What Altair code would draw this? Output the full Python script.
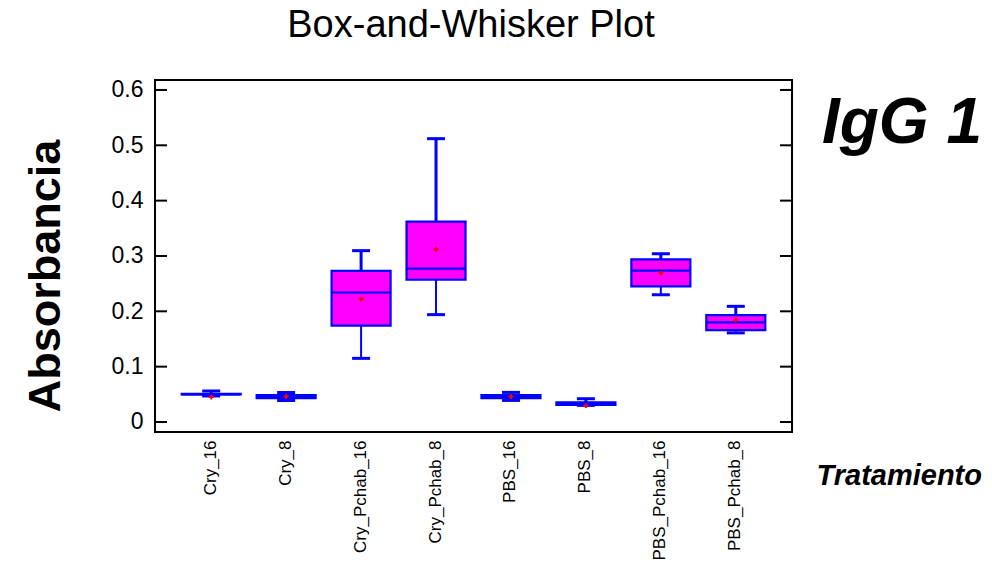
import altair as alt
import pandas as pd

# ---- data ----
groups = ["Cry_16", "Cry_8", "Cry_Pchab_16", "Cry_Pchab_8",
          "PBS_16", "PBS_8", "PBS_Pchab_16", "PBS_Pchab_8"]
mins    = [0.047, 0.039, 0.115, 0.194, 0.039, 0.030, 0.230, 0.161]
q1s     = [0.0498, 0.043, 0.174, 0.257, 0.043, 0.031, 0.245, 0.166]
medians = [0.050, 0.046, 0.234, 0.277, 0.046, 0.034, 0.2735, 0.180]
q3s     = [0.0508, 0.0488, 0.273, 0.362, 0.0488, 0.0356, 0.294, 0.193]
maxs    = [0.056, 0.0535, 0.3096, 0.512, 0.0535, 0.042, 0.304, 0.209]
means   = [0.045, 0.046, 0.222, 0.312, 0.046, 0.0295, 0.269, 0.184]

y_ticks = [0, 0.1, 0.2, 0.3, 0.4, 0.5, 0.6]

title_text = ["Box-and-Whisker Plot"]
corner_text = ["IgG 1"]
y_title = ["Absorbancia"]
x_title = ["Tratamiento"]

BLUE = "#0000FF"
MAGENTA = "#FF00FF"
W, H = 637, 352

df = pd.DataFrame(dict(group=groups, lo=mins, q1=q1s, med=medians,
                       q3=q3s, hi=maxs, mean=means))

yscale = alt.Scale(domain=[-0.0181, 0.618], nice=False, zero=False)

x_enc = alt.X("group:N", sort=groups,
              scale=alt.Scale(type="point", padding=0.75),
              axis=alt.Axis(title=None, labelAngle=270, labelFont="Liberation Sans",
                            labelFontSize=17, labelColor="black", labelPadding=8,
                            ticks=False, tickSize=0, domain=False, grid=False,
                            labelOffset=-1))


def Y(field, axis=False):
    if axis:
        return alt.Y(field, scale=yscale,
                     axis=alt.Axis(title=None, values=y_ticks, format="~g",
                                   labelFont="Liberation Sans", labelFontSize=23,
                                   labelColor="black", labelPadding=12,
                                   ticks=False, tickSize=0, domain=False, grid=False))
    return alt.Y(field, scale=yscale, title=None)


base = alt.Chart(df).encode(x=x_enc)

boxes = base.mark_bar(size=59, fill=MAGENTA, stroke=BLUE, strokeWidth=2.2,
                      opacity=1, fillOpacity=1, strokeOpacity=1).encode(
    y=Y("q1:Q", axis=True), y2="q3:Q")
upper = base.mark_rule(color=BLUE, strokeWidth=3, opacity=1).encode(y=Y("q3:Q"), y2="hi:Q")
lower = base.mark_rule(color=BLUE, strokeWidth=2, opacity=1).encode(y=Y("lo:Q"), y2="q1:Q")
cap_hi = base.mark_tick(color=BLUE, size=18, thickness=3, opacity=1).encode(y=Y("hi:Q"))
cap_lo = base.mark_tick(color=BLUE, size=18, thickness=3, opacity=1).encode(y=Y("lo:Q"))
median = base.mark_tick(color=BLUE, size=59, thickness=2.2, opacity=1).encode(y=Y("med:Q"))
mean = base.mark_point(shape="cross", filled=True, color="red", size=24, opacity=1).encode(
    y=Y("mean:Q"))

tick_df = pd.DataFrame({"v": y_ticks})
ticks_left = alt.Chart(tick_df).mark_rule(color="black", strokeWidth=2).encode(
    y=Y("v:Q"), x=alt.value(0), x2=alt.value(12))
ticks_right = alt.Chart(tick_df).mark_rule(color="black", strokeWidth=2).encode(
    y=Y("v:Q"), x=alt.value(W - 12), x2=alt.value(W))

title = alt.Chart(pd.DataFrame({"t": title_text})).mark_text(
    font="Liberation Sans", fontSize=38, color="black", align="center",
    baseline="alphabetic").encode(text="t:N", x=alt.value(316), y=alt.value(-43))
corner = alt.Chart(pd.DataFrame({"t": corner_text})).mark_text(
    font="Liberation Sans", fontSize=64, fontWeight="bold", fontStyle="italic",
    color="black", align="right", baseline="alphabetic").encode(
    text="t:N", x=alt.value(827), y=alt.value(63))
ytitle = alt.Chart(pd.DataFrame({"t": y_title})).mark_text(
    font="Liberation Sans", fontSize=45, fontWeight="bold", color="black",
    align="center", baseline="alphabetic", angle=270).encode(
    text="t:N", x=alt.value(-95), y=alt.value(196))
xtitle = alt.Chart(pd.DataFrame({"t": x_title})).mark_text(
    font="Liberation Sans", fontSize=29, fontWeight="bold", fontStyle="italic",
    color="black", align="right", baseline="alphabetic").encode(
    text="t:N", x=alt.value(827), y=alt.value(405))

chart = alt.layer(
    boxes, upper, lower, cap_hi, cap_lo, median, mean,
    ticks_left, ticks_right, title, corner, ytitle, xtitle
).properties(
    width=W, height=H,
    padding={"left": 155, "top": 80, "right": 200, "bottom": 137},
    autosize=alt.AutoSizeParams(type="none"),
    background="white",
).configure_view(stroke="black", strokeWidth=2)

chart.save("out.html", embed_options={"renderer": "svg", "actions": False})
